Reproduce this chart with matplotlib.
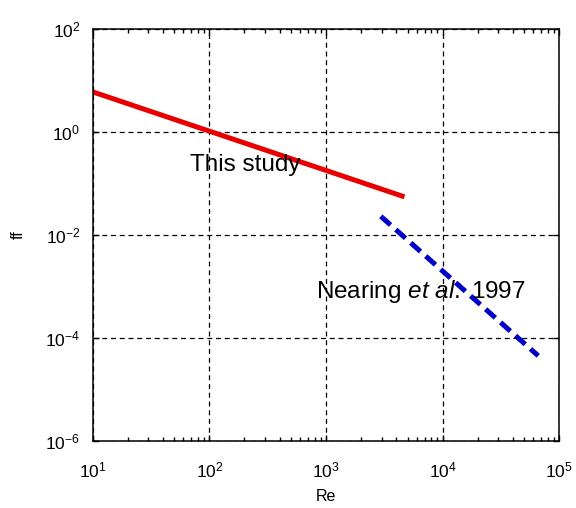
import numpy as np
import matplotlib
matplotlib.use("Agg")
import matplotlib.pyplot as plt
from matplotlib.ticker import LogLocator, NullLocator

plt.rcParams['font.family'] = ['Liberation Sans', 'DejaVu Sans']
plt.rcParams['mathtext.fontset'] = 'custom'
plt.rcParams['mathtext.rm'] = 'Liberation Sans'
plt.rcParams['mathtext.it'] = 'Liberation Sans:italic'
plt.rcParams['mathtext.default'] = 'regular'
plt.rcParams['axes.unicode_minus'] = False

re_this = [10, 4700]
ff_this = [6.0, 0.055]

re_nearing = [2950, 66000]
ff_nearing = [0.023, 4.5e-5]

x_ticks = [1e1, 1e2, 1e3, 1e4, 1e5]
y_ticks = [1e-6, 1e-4, 1e-2, 1e0, 1e2]

fig = plt.figure(figsize=(5.76, 5.08), dpi=100)
ax = fig.add_axes([0.161, 0.132, 0.810, 0.811])

ax.plot(re_this, ff_this, color='#e80000', lw=3.6, solid_capstyle='butt')
ax.plot(re_nearing, ff_nearing, color='#0000c8', lw=3.6,
        dashes=(2.6, 1.4), dash_capstyle='butt')

ax.set_xscale('log')
ax.set_yscale('log')
ax.set_xlim(1e1, 1e5)
ax.set_ylim(1e-6, 1e2)
ax.set_xticks(x_ticks)
ax.set_yticks(y_ticks)
ax.xaxis.set_minor_locator(LogLocator(base=10, subs=np.arange(2, 10), numticks=20))
ax.yaxis.set_minor_locator(NullLocator())

ax.grid(True, which='major', color='black', lw=0.9, linestyle=(0, (4, 3)))
ax.tick_params(which='both', direction='in', top=True, right=True,
               labelsize=12.5, color='black')
ax.tick_params(which='major', length=4, width=1)
ax.tick_params(which='minor', length=3, width=1)
ax.tick_params(axis='x', pad=14)
ax.tick_params(axis='y', pad=9)
for s in ax.spines.values():
    s.set_linewidth(1.1)

ax.set_xlabel('Re', fontsize=11.5, labelpad=6)
ax.set_ylabel('ff', fontsize=11.5, labelpad=14)

ax.text(68, 0.23, 'This study', fontsize=17.5, va='center', ha='left')
ax.text(815, 8.1e-4, r'Nearing $\it{et\ al.}$ 1997', fontsize=17.5,
        va='center', ha='left')

fig.savefig('out.png', dpi=100)
